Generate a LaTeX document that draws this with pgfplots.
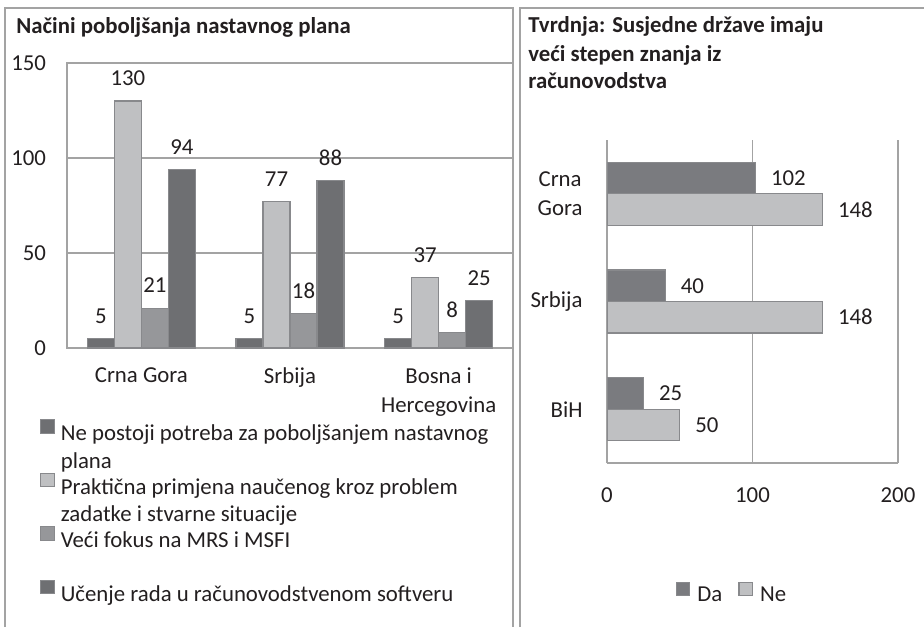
\documentclass[border=0pt]{standalone}
\usepackage{fontspec}
\setmainfont{Carlito}
\usepackage{pgfplots}
\pgfplotsset{compat=1.18}

\definecolor{darkbar}{HTML}{6E6F72}
\definecolor{dabar}{HTML}{7A7B7F}
\definecolor{midbar}{HTML}{96979A}
\definecolor{lightbar}{HTML}{BFC0C2}
\definecolor{edge}{HTML}{88898C}
\definecolor{gridc}{HTML}{A3A3A3}
\definecolor{txt}{HTML}{231F20}

\newcommand{\cf}{\fontsize{11.4}{14.5}\selectfont}
% legend rows: first line of an entry / continuation line
\newcommand{\lrow}[1]{\rule[-3pt]{0pt}{12pt}#1}
\newcommand{\lcont}[1]{\rule[-3pt]{0pt}{14.5pt}#1}

\pgfplotsset{
  /pgf/number format/assume math mode=true,
  chart/.style={
    scale only axis,
    enlargelimits=false,
    major tick length=0pt,
    tick style={draw=none},
    axis line style={gridc, line width=0.8pt},
    grid style={gridc, line width=0.8pt},
    tick label style={font=\cf, text=txt},
    nodes near coords,
    every node near coord/.append style={font=\cf, text=txt},
  },
  sq/.style={legend image code/.code={\draw[##1] (0pt,0pt) rectangle (6.8pt,6.8pt);}},
}

\begin{document}
\begin{tikzpicture}
\path[use as bounding box] (0,0) rectangle (462pt,313.5pt);

% panel frames
\draw[gridc, line width=0.8pt] (2.5pt,0) -- (2.5pt,309.5pt) -- (256.5pt,309.5pt) -- (256.5pt,0);
\draw[gridc, line width=0.8pt] (260pt,0) -- (260pt,309.5pt) -- (462pt,309.5pt);

% titles
\node[anchor=base west, inner sep=0pt, font=\cf\bfseries, text=txt] at (8pt,296.5pt) {Načini poboljšanja nastavnog plana};
\node[anchor=base west, inner sep=0pt, font=\cf\bfseries, text=txt] at (264pt,297pt) {Tvrdnja: Susjedne države imaju};
\node[anchor=base west, inner sep=0pt, font=\cf\bfseries, text=txt] at (264pt,282.5pt) {veći stepen znanja iz};
\node[anchor=base west, inner sep=0pt, font=\cf\bfseries, text=txt] at (264pt,269pt) {računovodstva};

% ---------- left: grouped columns ----------
\begin{axis}[chart,
  at={(33.5pt,139.5pt)}, anchor=south west,
  width=223pt, height=142.5pt,
  ybar=0pt, bar width=13.5pt,
  xmin=-0.5, xmax=2.5, ymin=0, ymax=150,
  xtick={0,1,2},
  xticklabels={Crna Gora, Srbija, {Bosna i\\Hercegovina}},
  xticklabel style={align=center, yshift=-6.5pt},
  ytick={0,50,100,150},
  yticklabel style={xshift=-7pt},
  ymajorgrids,
  every node near coord/.append style={yshift=4pt},
  legend cell align=left,
  legend style={at={(-0.0605,-0.2491)}, anchor=north west, draw=none, fill=none,
    inner sep=0pt, outer sep=0pt, nodes={inner sep=0pt, text=txt}, font=\cf,
    row sep=0.7pt, /tikz/every odd column/.append style={column sep=3pt}},
]
\addplot[forget plot, fill=darkbar, draw=edge, line width=0.6pt, bar shift=-20.25pt] coordinates {(0,5) (1,5) (2,5)};
\addplot[forget plot, fill=lightbar, draw=edge, line width=0.6pt, bar shift=-6.75pt] coordinates {(0,130) (1,77) (2,37)};
\addplot[forget plot, fill=midbar, draw=edge, line width=0.6pt, bar shift=6.75pt] coordinates {(0,21) (1,18) (2,8)};
\addplot[forget plot, fill=darkbar, draw=edge, line width=0.6pt, bar shift=20.25pt] coordinates {(0,94) (1,88) (2,25)};

\addlegendimage{fill=darkbar, draw=edge, line width=0.6pt, sq}
\addlegendentry{\lrow{Ne postoji potreba za poboljšanjem nastavnog}}
\addlegendimage{empty legend}
\addlegendentry{\lcont{plana}}
\addlegendimage{fill=lightbar, draw=edge, line width=0.6pt, sq}
\addlegendentry{\lrow{Praktična primjena naučenog kroz problem}}
\addlegendimage{empty legend}
\addlegendentry{\lcont{zadatke i stvarne situacije}}
\addlegendimage{fill=midbar, draw=edge, line width=0.6pt, sq}
\addlegendentry{\lrow{Veći fokus na MRS i MSFI}}
\addlegendimage{empty legend}
\addlegendentry{\lcont{}}
\addlegendimage{fill=darkbar, draw=edge, line width=0.6pt, sq}
\addlegendentry{\lrow{Učenje rada u računovodstvenom softveru}}
\end{axis}

% ---------- right: horizontal bars ----------
\begin{axis}[chart,
  at={(303.5pt,82pt)}, anchor=south west,
  width=145.5pt, height=161.5pt,
  xbar, bar width=15.75pt,
  point meta=x,
  xmin=0, xmax=200, ymin=-0.5, ymax=2.5,
  xtick={0,100,200},
  ytick={0,1,2},
  yticklabels={BiH, Srbija, {Crna\\Gora}},
  yticklabel style={align=center, xshift=-8.7pt},
  xticklabel style={yshift=-9pt},
  axis x line*=bottom, axis y line*=left,
  xmajorgrids,
  every node near coord/.append style={xshift=4.2pt},
  legend columns=2,
  legend style={at={(0.426,-0.4025)}, anchor=center, draw=none, fill=none,
    inner sep=0pt, outer sep=0pt, nodes={inner sep=0pt, text=txt}, font=\cf,
    /tikz/every odd column/.append style={column sep=3.5pt},
    /tikz/every even column/.append style={column sep=8pt}},
]
\addplot[fill=dabar, draw=edge, line width=0.6pt, bar shift=7.875pt, sq] coordinates {(25,0) (40,1) (102,2)};
\addplot[fill=lightbar, draw=edge, line width=0.6pt, bar shift=-7.875pt, sq] coordinates {(50,0) (148,1) (148,2)};
\addlegendentry{Da}
\addlegendentry{Ne}
\end{axis}
\end{tikzpicture}
\end{document}
